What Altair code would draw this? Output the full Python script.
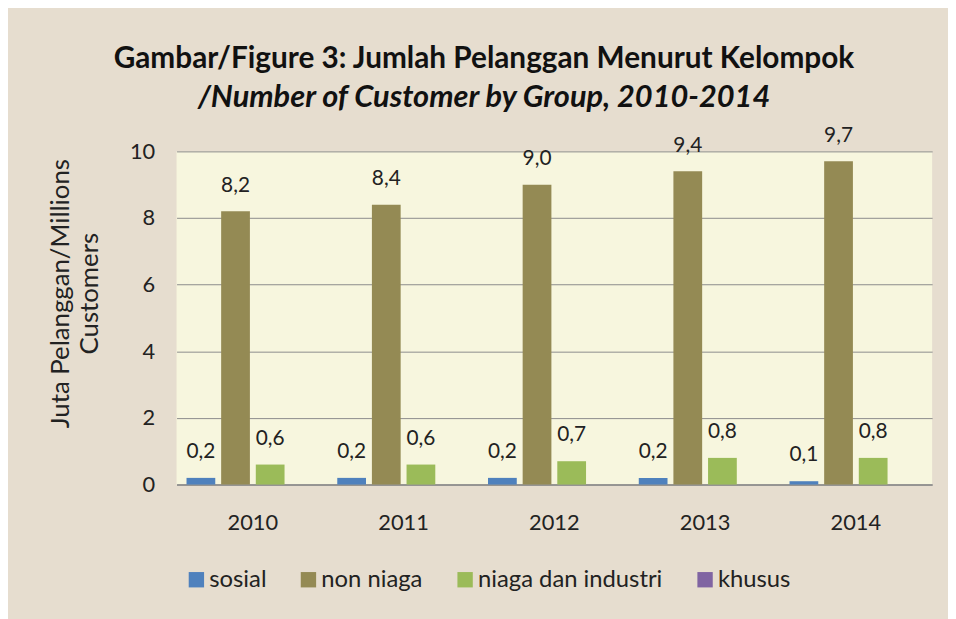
import altair as alt
import pandas as pd

years = ["2010", "2011", "2012", "2013", "2014"]
groups = ["sosial", "non niaga", "niaga dan industri", "khusus"]
sosial = [0.2, 0.2, 0.2, 0.2, 0.1]
non_niaga = [8.2, 8.4, 9.0, 9.4, 9.7]
niaga_industri = [0.6, 0.6, 0.7, 0.8, 0.8]
khusus = [0.0, 0.0, 0.0, 0.0, 0.0]
colors = ["#4f81bd", "#948a54", "#9bbb59", "#8064a2"]
y_ticks = [0, 2, 4, 6, 8, 10]

series = {"sosial": sosial, "non niaga": non_niaga,
          "niaga dan industri": niaga_industri, "khusus": khusus}
rows = []
for g in groups:
    for yr, v in zip(years, series[g]):
        rows.append({"year": yr, "group": g, "value": v,
                     "label": f"{v:.1f}".replace(".", ",")})
df = pd.DataFrame(rows)

FONT = "Lato"

x = alt.X("year:N", sort=years, title=None,
          scale=alt.Scale(paddingInner=0.12, paddingOuter=0.066),
          axis=alt.Axis(labelAngle=0, labelFontSize=22, labelFont=FONT,
                        labelColor="#222222", labelPadding=28, ticks=False,
                        domain=True, domainColor="#8a8a8a", domainWidth=1.5,
                        grid=False))
xo = alt.XOffset("group:N", sort=groups,
                 scale=alt.Scale(paddingInner=0.17, paddingOuter=0))
y = alt.Y("value:Q", title=["Juta Pelanggan/Millions", "Customers"],
          scale=alt.Scale(domain=[0, 10], nice=False),
          axis=alt.Axis(values=y_ticks, labelFontSize=22, labelFont=FONT,
                        labelColor="#222222", labelPadding=22, ticks=False,
                        domain=False, grid=True, gridColor="#8c8c8c",
                        gridWidth=1, titleFont=FONT, titleFontSize=26,
                        titleFontWeight="normal", titleColor="#222222",
                        titleX=-104, titleY=143, titleAngle=-90,
                        titleLineHeight=29))

base = alt.Chart(df)

bars = base.mark_bar().encode(
    x=x, xOffset=xo, y=y,
    color=alt.Color("group:N", sort=groups,
                    scale=alt.Scale(domain=groups, range=colors),
                    legend=alt.Legend(title=None, orient="none",
                                      direction="horizontal",
                                      legendX=8, legendY=420,
                                      symbolType="square", symbolSize=240,
                                      symbolStrokeWidth=0, labelLimit=0,
                                      labelFont=FONT, labelFontSize=24,
                                      labelColor="#222222", labelOffset=1,
                                      columnPadding=30)),
)

labels = base.transform_filter(alt.datum.value > 0).mark_text(
    baseline="middle", dy=-26, fontSize=21, font=FONT, color="#222222"
).encode(x=x, xOffset=xo, y=y, text="label:N")

chart = alt.layer(bars, labels).properties(
    width=762, height=336,
    title=alt.TitleParams(
        text="Gambar/Figure 3: Jumlah Pelanggan Menurut Kelompok",
        subtitle="/Number of Customer by Group, 2010-2014",
        font=FONT, fontSize=30, fontWeight="bold", color="#111111",
        subtitleFont=FONT, subtitleFontSize=31, subtitleFontWeight="bold",
        subtitleFontStyle="italic", subtitleColor="#111111",
        subtitlePadding=9, anchor="middle", dx=-71, offset=12),
    padding={"left": 170, "top": 142, "right": 16, "bottom": 133},
    autosize=alt.AutoSizeParams(type="none"),
    background="#e6ddcf",
).configure_view(fill="#f7f6de", stroke=None)

chart.save("out.html", embed_options={"renderer": "svg", "actions": False})
